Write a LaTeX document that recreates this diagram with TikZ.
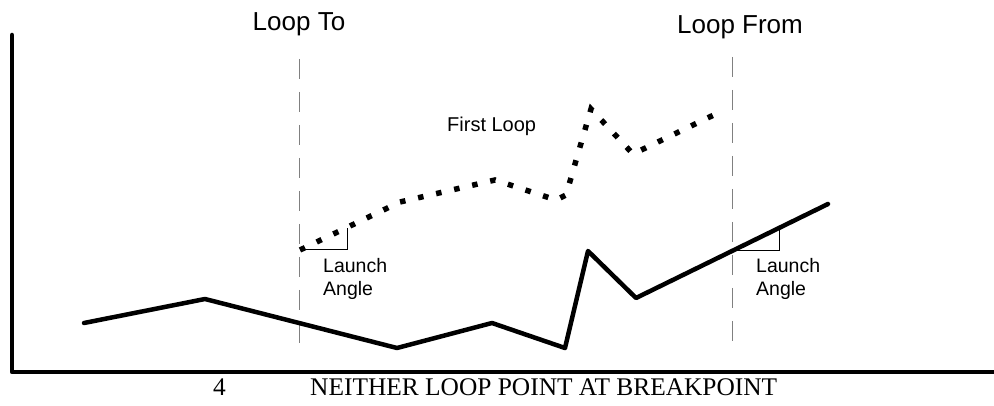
\documentclass[tikz,border=0pt]{standalone}
\usepackage{fontspec}
\setmainfont{Liberation Serif}
\newfontfamily\arialfont{Liberation Sans}
\begin{document}
\begin{tikzpicture}[x=1pt,y=-1pt,
  axisline/.style={line width=4.5pt,line cap=round,line join=round},
  solidpath/.style={line width=4.5pt,line cap=round,line join=round},
  dotpath/.style={line width=5.5pt,dash pattern=on 5.5pt off 13pt,dash phase=0pt},
  guideline/.style={draw=gray,line width=1.3pt,dash pattern=on 20pt off 13pt},
  bracket/.style={line width=0.9pt},
  biglabel/.style={font=\arialfont\fontsize{26}{30}\selectfont,anchor=base,inner sep=0pt},
  midlabel/.style={font=\arialfont\fontsize{20}{24}\selectfont,anchor=base west,inner sep=0pt},
  anglelabel/.style={font=\arialfont\fontsize{19.5}{23}\selectfont,anchor=north west,inner sep=0pt,align=left},
  caption/.style={font=\fontsize{25.4}{30}\selectfont,anchor=base west,inner sep=0pt}]
\useasboundingbox (0,0) rectangle (994,406);
% axes
\coordinate (ytop) at (12,35);
\coordinate (orig) at (12,372);
\coordinate (xend) at (996,372);
\draw[axisline] (ytop) -- (orig) -- (xend);
% guide lines
\coordinate (gtA) at (299.5,59);
\coordinate (gbA) at (299.5,346);
\coordinate (gtB) at (732.5,57);
\coordinate (gbB) at (732.5,346);
\draw[guideline] (gtA) -- (gbA);
\draw[guideline] (gtB) -- (gbB);
% solid path
\coordinate (s1) at (84,323);
\coordinate (s2) at (205,299);
\coordinate (s3) at (397,348);
\coordinate (s4) at (492,323);
\coordinate (s5) at (565,348);
\coordinate (s6) at (588,251);
\coordinate (s7) at (636,298);
\coordinate (s8) at (828,204);
\draw[solidpath] (s1) -- (s2) -- (s3) -- (s4) -- (s5) -- (s6) -- (s7) -- (s8);
% dotted path
\coordinate (d1) at (300,250);
\coordinate (d2) at (400,202);
\coordinate (d3) at (495,180);
\coordinate (d4) at (556,200);
\coordinate (d5) at (566,195);
\coordinate (d6) at (591,109);
\coordinate (d7) at (633,154);
\coordinate (d8) at (722,111);
\draw[dotpath] (d1) -- (d2) -- (d3) -- (d4) -- (d5) -- (d6) -- (d7) -- (d8);
% brackets
\coordinate (bA1) at (300,249);
\coordinate (bA2) at (347,249);
\coordinate (bA3) at (347,228);
\draw[bracket] (bA1) -- (bA2) -- (bA3);
\coordinate (bB1) at (733,250.5);
\coordinate (bB2) at (779.5,250.5);
\coordinate (bB3) at (779.5,227);
\draw[bracket] (bB1) -- (bB2) -- (bB3);
% labels
\node[biglabel] (loopto) at (299,31) {Loop To};
\node[biglabel] (loopfrom) at (740,34) {Loop From};
\node[midlabel] (first) at (447,132) {First Loop};
\node[anglelabel] (angA) at (323,258) {Launch\\Angle};
\node[anglelabel] (angB) at (756,258) {Launch\\Angle};
\node[caption] (num) at (213,395) {4};
\node[caption] (title) at (310,395) {NEITHER LOOP POINT AT BREAKPOINT};
\end{tikzpicture}
\end{document}
